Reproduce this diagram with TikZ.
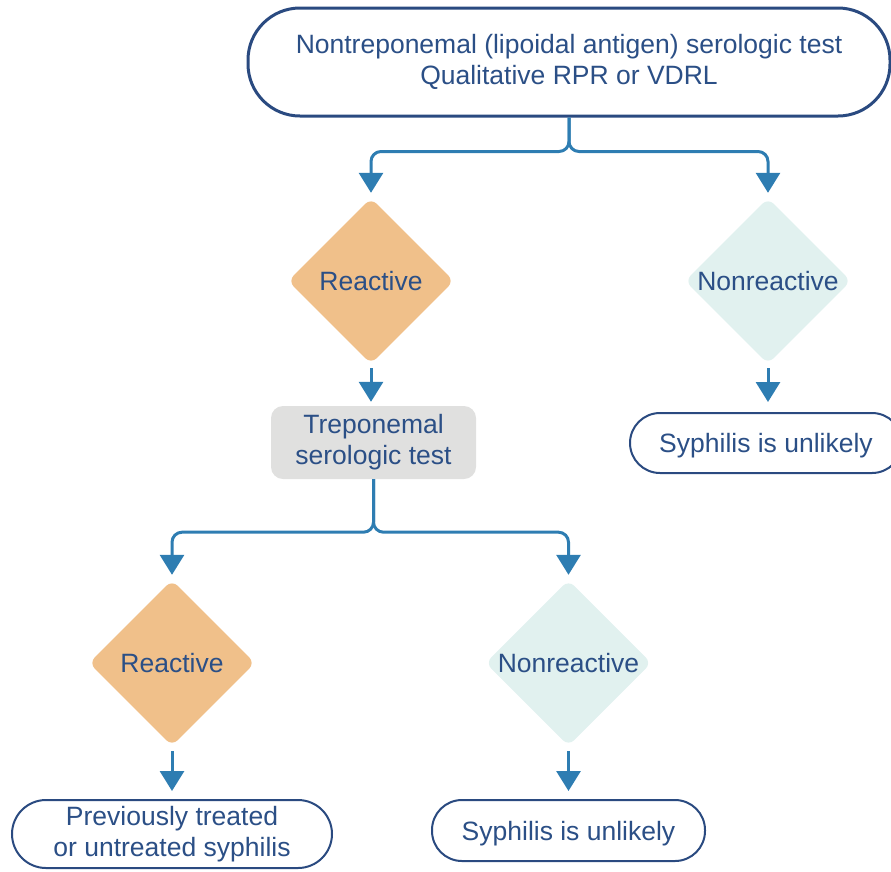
\documentclass[tikz,border=0pt]{standalone}
\usepackage{fontspec}
\setmainfont{Liberation Sans}
\usetikzlibrary{shapes.geometric,arrows.meta,calc}
\definecolor{txtblue}{HTML}{2B4F86}
\definecolor{boxblue}{HTML}{2A4A80}
\definecolor{arrblue}{HTML}{2E7DB2}
\definecolor{orangefill}{HTML}{F0C08A}
\definecolor{cyanfill}{HTML}{E1F1EF}
\definecolor{grayfill}{HTML}{E0E0DF}
\begin{document}
\begin{tikzpicture}[x=1pt,y=-1pt,
  every node/.style={text=txtblue, font=\fontsize{26.5}{31}\selectfont, align=center, inner sep=0pt},
  term/.style={draw=boxblue, rounded corners=#1, line width=2pt, fill=white},
  conn/.style={draw=arrblue, line width=3pt, -{Triangle[width=24pt,length=20pt]}},
  dia/.style={diamond, aspect=1, minimum width=166pt, minimum height=166pt, inner sep=0pt, rounded corners=8pt, draw=none},
]
\useasboundingbox (0,0) rectangle (891,871);

\node[term=52, line width=3pt, minimum width=642pt, minimum height=108pt] (top) at (569,62)
  {Nontreponemal (lipoidal antigen) serologic test\\Qualitative RPR or VDRL};

\node[dia, fill=orangefill, label={center:Reactive}] (d1) at (371,281) {};
\node[dia, fill=cyanfill, label={center:Nonreactive}] (d2) at (768,281) {};

\node[fill=grayfill, rounded corners=12pt, minimum width=205pt, minimum height=73pt] (trep) at (373.5,442.5)
  {Treponemal\\serologic test};

\node[term=30, text depth=0pt, minimum width=272pt, minimum height=60pt] (syph1) at (766,443) {Syphilis is unlikely};

\node[dia, fill=orangefill, label={center:Reactive}] (d3) at (172,663) {};
\node[dia, fill=cyanfill, label={center:Nonreactive}] (d4) at (568.5,663) {};

\node[term=34, minimum width=320pt, minimum height=68pt] (prev) at (172,834)
  {Previously treated\\or untreated syphilis};
\node[term=30, text depth=0pt, minimum width=273pt, minimum height=61pt] (syph2) at (568.5,830.5) {Syphilis is unlikely};

\draw[conn, rounded corners=10pt] (top.south) -- ++(0,34) -| ($(d1.north)+(0,-5)$);
\draw[conn, rounded corners=10pt] (top.south) -- ++(0,34) -| ($(d2.north)+(0,-5)$);

\draw[conn] ($(d1.south)+(0,4)$) -- ($(d1.south |- trep.north)+(0,-4)$);
\draw[conn] ($(d2.south)+(0,4)$) -- ($(d2.south |- syph1.north)+(0,-10)$);

\draw[conn, rounded corners=10pt] (trep.south) -- ++(0,53) -| ($(d3.north)+(0,-5)$);
\draw[conn, rounded corners=10pt] (trep.south) -- ++(0,53) -| ($(d4.north)+(0,-5)$);

\draw[conn] ($(d3.south)+(0,5)$) -- ($(d3.south |- prev.north)+(0,-8)$);
\draw[conn] ($(d4.south)+(0,5)$) -- ($(d4.south |- syph2.north)+(0,-8)$);
\end{tikzpicture}
\end{document}
